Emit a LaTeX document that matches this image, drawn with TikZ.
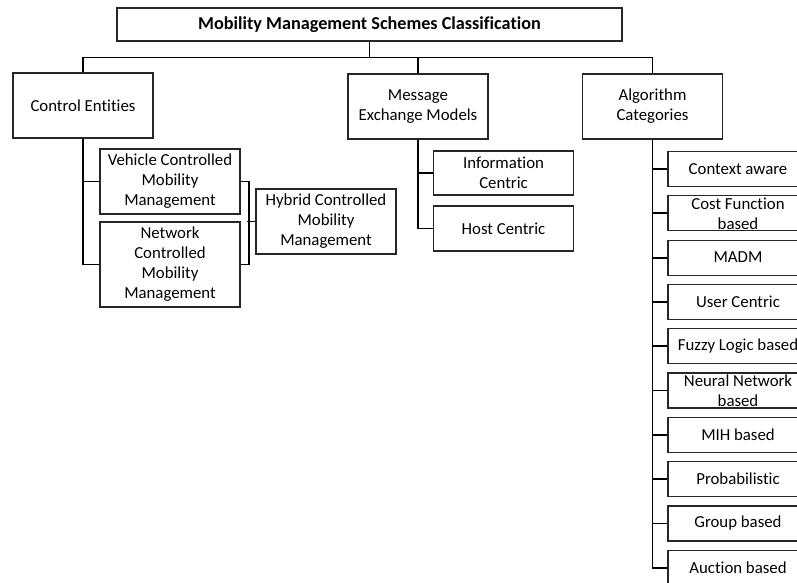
\documentclass[tikz,border=0pt]{standalone}
\usepackage{fontspec}
\setmainfont{Carlito}[Ligatures=NoCommon]

\begin{document}
\begin{tikzpicture}[x=1pt,y=-1pt,
  txt/.style={align=center,font=\fontsize{16.8}{20}\selectfont},
  box/.style={draw=black!85,line width=1.2pt,minimum width=140pt,inner sep=2pt,txt},
  catbox/.style={box,minimum height=35pt},
  conn/.style={draw=black,line width=1.8pt}]
\clip (0,0) rectangle (797,583);

% top level
\node[box,minimum width=505pt,minimum height=33pt,font=\fontsize{18.2}{20}\selectfont\bfseries] (title) at (369.5,24.5) {Mobility Management Schemes Classification};
\node[box,minimum height=65pt] (ctrl) at (83,105.5) {Control Entities};
\node[box,minimum height=65pt] (msg) at (418,106.5) {Message\\Exchange Models};
\node[box,minimum height=65pt] (alg) at (652.5,106.5) {Algorithm\\Categories};

% control entities
\node[box,minimum height=65pt] (veh) at (170,181.5) {Vehicle Controlled\\Mobility\\Management};
\node[box,minimum height=85pt] (net) at (170,264.5) {Network\\Controlled\\Mobility\\Management};
\node[box,minimum height=65pt] (hyb) at (326,221.5) {Hybrid Controlled\\Mobility\\Management};

% message exchange models
\node[box,minimum height=44pt] (info) at (503.5,173) {Information\\Centric};
\node[box,minimum height=45pt] (host) at (503.5,228.5) {Host Centric};

% algorithm categories
\foreach \t [count=\i from 0] in {Context aware,{Cost Function\\based},MADM,User Centric,
    Fuzzy Logic based,{Neural Network\\based},MIH based,Probabilistic,Group based,Auction based}
  \node[catbox,label={[txt]center:\t}] (cat\i) at (738,169+44.3*\i) {};

% connectors
\draw[conn] (title.south) -- ++(0,16) coordinate (bus);
\draw[conn] (ctrl.north) |- (bus) -| (alg.north);
\draw[conn] (msg.north) -- (msg.north |- bus);

\draw[conn] (ctrl.south) |- (net.west);
\draw[conn] (ctrl.south |- veh.west) -- (veh.west);
\draw[conn] (veh.east) -- ++(8,0) |- (net.east);
\draw[conn] (hyb.west) -- ++(-8,0);

\draw[conn] (msg.south) |- (host.west);
\draw[conn] (msg.south |- info.west) -- (info.west);

\draw[conn] (alg.south) |- (cat9.west);
\foreach \i in {0,...,8}
  \draw[conn] (alg.south |- cat\i.west) -- (cat\i.west);
\end{tikzpicture}
\end{document}
